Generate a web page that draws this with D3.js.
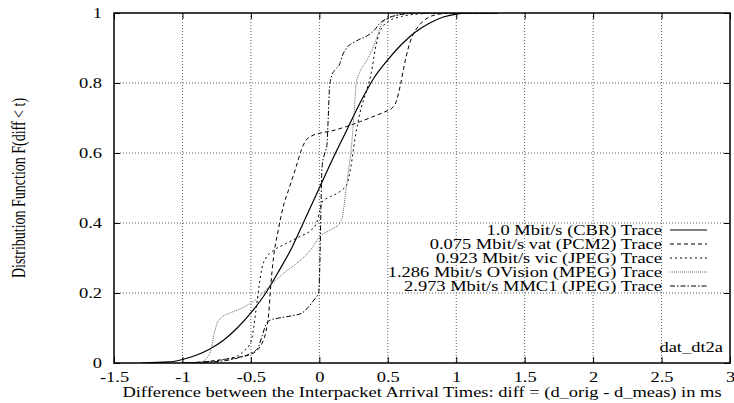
<!DOCTYPE html>
<html lang="en">
<head>
<meta charset="utf-8">
<script src="https://cdn.jsdelivr.net/npm/d3@7"></script>
<style>
  body { margin: 0; background: #fff; }
  text { font-family: "Liberation Serif", "Times New Roman", serif; font-size: 14px; fill: #000; }
  .grid line { stroke: #333; stroke-width: 0.8; stroke-dasharray: 1,2; }
</style>
</head>
<body>
<script>
// axis ticks
const xTicks = [-1.5, -1, -0.5, 0, 0.5, 1, 1.5, 2, 2.5, 3];
const yTicks = [0, 0.2, 0.4, 0.6, 0.8, 1];

// series labels (legend order)
const seriesNames = [
  "1.0 Mbit/s (CBR) Trace",
  "0.075 Mbit/s vat (PCM2) Trace",
  "0.923 Mbit/s vic (JPEG) Trace",
  "1.286 Mbit/s OVision (MPEG) Trace",
  "2.973 Mbit/s MMC1 (JPEG) Trace"
];

// [diff in ms, F(diff < t)]
const cbrPoints = [[-1.3,0],[-1.1,0.003],[-1.0,0.01],[-0.9,0.022],[-0.8,0.04],[-0.7,0.065],[-0.6,0.1],[-0.5,0.143],
  [-0.4,0.195],[-0.3,0.26],[-0.2,0.33],[-0.1,0.415],[0,0.5],[0.1,0.585],[0.2,0.665],[0.3,0.745],[0.4,0.815],
  [0.5,0.866],[0.6,0.91],[0.7,0.945],[0.8,0.97],[0.9,0.988],[1.0,0.997],[1.1,1],[1.3,1]];

const vatPoints = [[-1.0,0],[-0.85,0.003],[-0.7,0.01],[-0.6,0.016],[-0.5,0.025],[-0.45,0.038],[-0.42,0.055],[-0.39,0.09],
  [-0.37,0.14],[-0.355,0.22],[-0.335,0.3],[-0.3,0.38],[-0.265,0.445],[-0.22,0.5],[-0.17,0.56],[-0.13,0.61],[-0.1,0.635],
  [-0.06,0.648],[0,0.656],[0.1,0.664],[0.2,0.676],[0.3,0.69],[0.4,0.705],[0.48,0.718],[0.53,0.728],[0.56,0.745],
  [0.59,0.79],[0.62,0.85],[0.65,0.9],[0.68,0.935],[0.72,0.96],[0.8,0.988],[0.9,0.998],[1.0,1],[1.3,1]];

const vicPoints = [[-1.0,0],[-0.85,0.003],[-0.7,0.01],[-0.6,0.02],[-0.55,0.035],[-0.5,0.06],[-0.48,0.1],[-0.46,0.16],
  [-0.44,0.22],[-0.42,0.27],[-0.39,0.3],[-0.34,0.32],[-0.25,0.34],[-0.15,0.36],[-0.06,0.38],[-0.02,0.4],[0.0,0.43],
  [0.02,0.46],[0.08,0.475],[0.15,0.49],[0.2,0.51],[0.23,0.56],[0.26,0.64],[0.3,0.72],[0.35,0.785],[0.38,0.83],
  [0.41,0.9],[0.44,0.945],[0.5,0.975],[0.6,0.99],[0.75,0.998],[0.85,1],[1.3,1]];

const ovisionPoints = [[-1.0,0],[-0.86,0.003],[-0.82,0.015],[-0.79,0.04],[-0.77,0.08],[-0.75,0.11],[-0.72,0.128],
  [-0.65,0.143],[-0.55,0.16],[-0.45,0.185],[-0.35,0.225],[-0.25,0.26],[-0.15,0.29],[-0.05,0.33],[0,0.36],[0.08,0.38],
  [0.15,0.4],[0.17,0.42],[0.19,0.48],[0.21,0.54],[0.235,0.62],[0.255,0.72],[0.27,0.8],[0.3,0.835],[0.34,0.86],
  [0.38,0.89],[0.42,0.93],[0.45,0.965],[0.5,0.985],[0.6,0.996],[0.7,1],[1.3,1]];

const mmc1Points = [[-1.0,0],[-0.85,0.002],[-0.7,0.006],[-0.6,0.014],[-0.5,0.028],[-0.45,0.042],[-0.42,0.075],
  [-0.39,0.11],[-0.36,0.122],[-0.3,0.128],[-0.2,0.135],[-0.13,0.142],[-0.08,0.16],[-0.03,0.185],[-0.005,0.2],
  [0.005,0.3],[0.012,0.45],[0.02,0.56],[0.04,0.6],[0.055,0.62],[0.065,0.7],[0.075,0.79],[0.09,0.82],[0.12,0.84],
  [0.15,0.855],[0.17,0.88],[0.2,0.9],[0.27,0.92],[0.35,0.935],[0.4,0.95],[0.44,0.97],[0.5,0.985],[0.6,0.996],
  [0.7,1],[1.3,1]];

const allSeries = [cbrPoints, vatPoints, vicPoints, ovisionPoints, mmc1Points];
// line looks, one per series
const dashes = ["none", "4,3", "2,3", "1,1", "5,2,1.5,2"];
const strokes = ["#000", "#000", "#000", "#666", "#000"];

const width = 734, height = 403;
const plotLeft = 114, plotRight = 730, plotTop = 13, plotBottom = 363;
const sx = 1.32;   // text in the picture is stretched sideways

const x = d3.scaleLinear().domain([-1.5, 3]).range([plotLeft, plotRight]);
const y = d3.scaleLinear().domain([0, 1]).range([plotBottom, plotTop]);

const svg = d3.select("body").append("svg")
  .attr("width", width).attr("height", height);

// grid
const grid = svg.append("g").attr("class", "grid");
grid.selectAll(".gx").data(xTicks.slice(1, -1)).enter().append("line")
  .attr("x1", d => x(d)).attr("x2", d => x(d)).attr("y1", plotTop).attr("y2", plotBottom);
grid.selectAll(".gy").data(yTicks.slice(1, -1)).enter().append("line")
  .attr("x1", plotLeft).attr("x2", plotRight).attr("y1", d => y(d)).attr("y2", d => y(d));

// axes, ticks pointing inwards on all four sides
const fmt = d => String(d);
const xAxis = svg.append("g").attr("transform", "translate(0," + plotBottom + ")")
  .call(d3.axisBottom(x).tickValues(xTicks).tickFormat(fmt).tickSizeInner(-6).tickSizeOuter(0));
xAxis.selectAll("text").attr("y", 9).attr("transform", "scale(" + sx + ",1)");
svg.append("g").attr("transform", "translate(0," + plotTop + ")")
  .call(d3.axisTop(x).tickValues(xTicks).tickFormat("").tickSizeInner(-6).tickSizeOuter(0));

const yAxis = svg.append("g").attr("transform", "translate(" + plotLeft + ",0)")
  .call(d3.axisLeft(y).tickValues(yTicks).tickFormat(fmt).tickSizeInner(-6).tickSizeOuter(0));
yAxis.selectAll("text").attr("x", -12 / sx).attr("transform", "scale(" + sx + ",1)");
svg.append("g").attr("transform", "translate(" + plotRight + ",0)")
  .call(d3.axisRight(y).tickValues(yTicks).tickFormat("").tickSizeInner(-6).tickSizeOuter(0));

svg.selectAll(".domain").remove();
svg.selectAll(".tick line").attr("stroke", "#000");
svg.selectAll(".tick text").style("font-size", "14px").style("font-family", '"Liberation Serif", serif');

// curves
svg.append("clipPath").attr("id", "plot").append("rect")
  .attr("x", plotLeft).attr("y", plotTop).attr("width", plotRight - plotLeft).attr("height", plotBottom - plotTop);

const line = d3.line().x(d => x(d[0])).y(d => y(d[1])).curve(d3.curveMonotoneX);

svg.append("g").attr("clip-path", "url(#plot)")
  .selectAll("path").data(allSeries).enter().append("path")
  .attr("d", line)
  .attr("fill", "none")
  .attr("stroke", (d, i) => strokes[i])
  .attr("stroke-width", (d, i) => i == 0 ? 1.2 : 1)
  .attr("stroke-dasharray", (d, i) => dashes[i]);

// border
svg.append("rect")
  .attr("x", plotLeft).attr("y", plotTop).attr("width", plotRight - plotLeft).attr("height", plotBottom - plotTop)
  .attr("fill", "none").attr("stroke", "#000").attr("stroke-width", 1.5);

// legend
const legend = svg.append("g");
seriesNames.forEach(function(name, i) {
  const ly = 230 + i * 14;
  legend.append("text")
    .attr("transform", "translate(662," + (ly + 5) + ") scale(" + sx + ",1)")
    .attr("text-anchor", "end")
    .text(name);
  legend.append("line")
    .attr("x1", 670).attr("x2", 707).attr("y1", ly).attr("y2", ly)
    .attr("stroke", strokes[i])
    .attr("stroke-width", i == 0 ? 1.2 : 1)
    .attr("stroke-dasharray", dashes[i]);
});

svg.append("text")
  .attr("transform", "translate(723,352) scale(" + sx + ",1)")
  .attr("text-anchor", "end")
  .text("dat_dt2a");

// axis titles
svg.append("text")
  .attr("transform", "translate(" + ((plotLeft + plotRight) / 2) + ",397) scale(" + sx + ",1)")
  .attr("text-anchor", "middle")
  .text("Difference between the Interpacket Arrival Times: diff = (d_orig - d_meas) in ms");

// rotated title: the sideways stretch makes its glyphs wider on screen, not longer
svg.append("text")
  .attr("transform", "translate(25," + ((plotTop + plotBottom) / 2) + ") rotate(-90) scale(1," + sx + ")")
  .attr("text-anchor", "middle")
  .text("Distribution Function F(diff < t)");
</script>
</body>
</html>
